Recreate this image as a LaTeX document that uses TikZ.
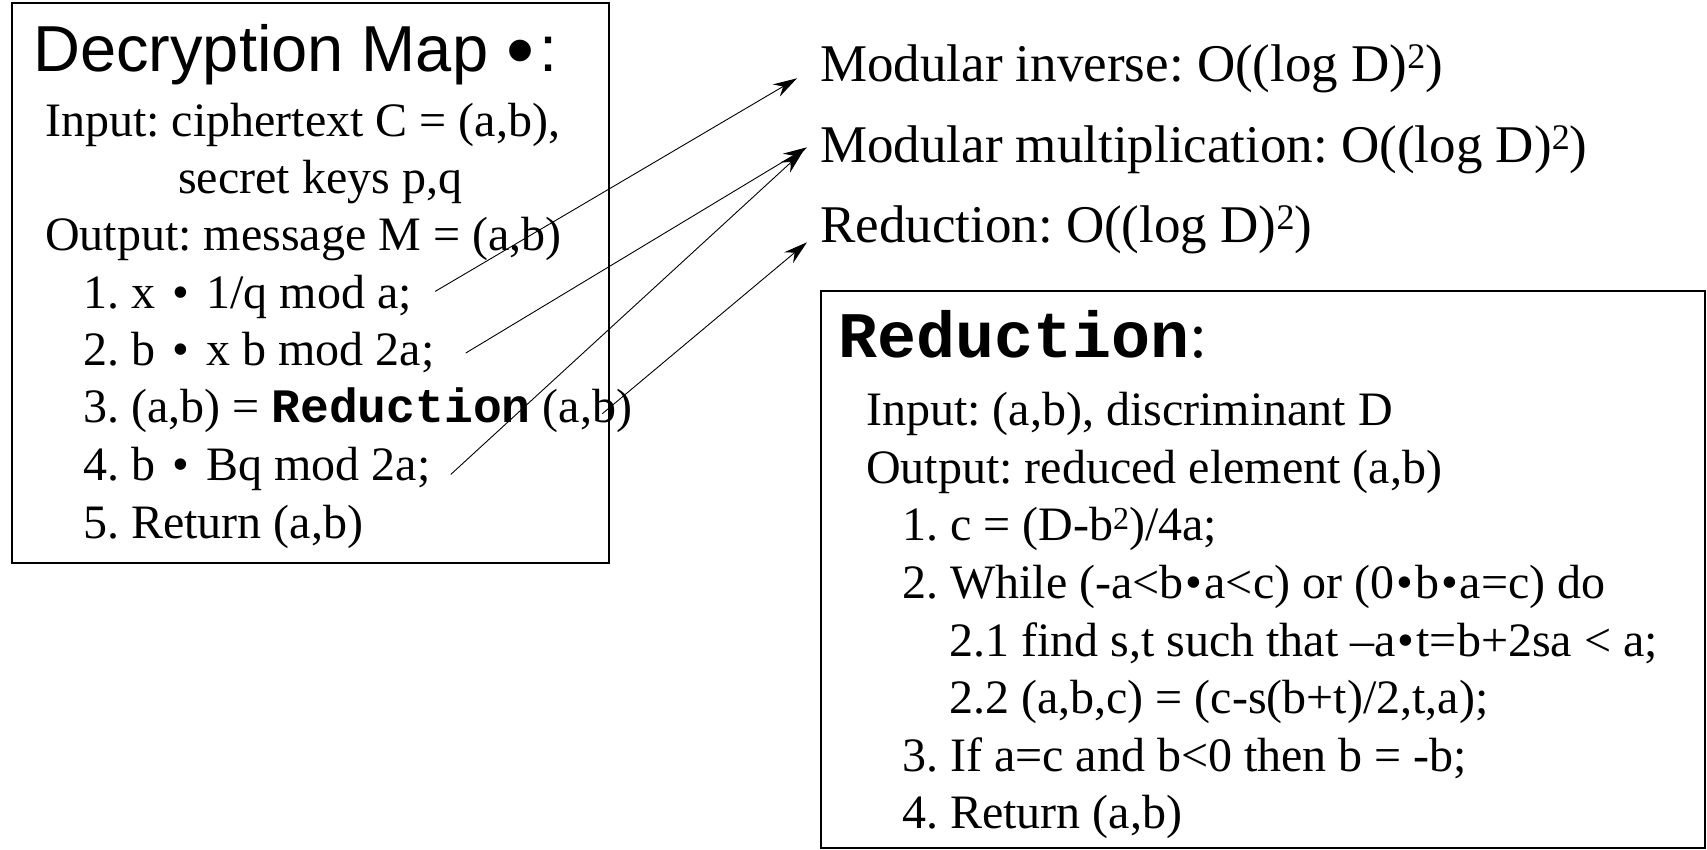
\documentclass[tikz,border=0pt]{standalone}
\usepackage{fontspec}
\setmainfont{Liberation Serif}
\setsansfont{Liberation Sans}
\setmonofont{Liberation Mono}
\usetikzlibrary{arrows.meta}
\frenchspacing
\newcommand{\redbf}{{\ttfamily\bfseries Reduction}}
\newcommand{\blt}{\hspace{0.36em}•\hspace{0.36em}}
\newcommand{\sbl}{\kern2pt•\kern2pt}
\newcommand{\sqtwo}[2]{\raisebox{#1}{\fontsize{#2}{#2}\selectfont 2}}

\begin{document}
\begin{tikzpicture}[x=1pt, y=-1pt,
    line/.style={anchor=base west, inner sep=0pt, font=\fontsize{48}{57}\selectfont},
    cost/.style={anchor=base west, inner sep=0pt, font=\fontsize{53}{64}\selectfont},
    frame/.style={draw, line width=1.3pt},
    arr/.style={-{Stealth[length=24pt, width=14pt, inset=8pt]}, line width=0.9pt}]
  \useasboundingbox (0,0) rectangle (1707,850);

  % decryption box
  \draw[frame] (12,3) rectangle (609,563);
  \node[anchor=base west, inner sep=0pt, font=\sffamily\fontsize{65}{70}\selectfont] (dec) at (33,72)
    {Decryption Map\hspace{18pt}\raisebox{-6pt}{\fontsize{80}{80}\selectfont •}\hspace{5pt}:};
  \node[line] (inp) at (45,137) {Input: ciphertext C = (a,b),};
  \node[line] (sec) at (178,194) {secret keys p,q};
  \node[line] (out) at (45,251) {Output: message M = (a,b)};
  \node[line] (s1) at (83,308) {1. x\blt 1/q mod a;};
  \node[line] (s2) at (83,365) {2. b\blt x b mod 2a;};
  \node[line] (s3) at (83,422) {3. (a,b) = \redbf{} (a,b)};
  \node[line] (s4) at (83,480) {4. b\blt Bq mod 2a;};
  \node[line] (s5) at (83,538) {5. Return (a,b)};

  % costs
  \node[cost] (inv) at (820,82) {Modular inverse: O((log D)\sqtwo{13pt}{36})};
  \node[cost] (mul) at (820,163) {Modular multiplication: O((log D)\sqtwo{13pt}{36})};
  \node[cost] (rdc) at (820,243) {Reduction: O((log D)\sqtwo{13pt}{36})};

  % reduction box
  \draw[frame] (821,291) rectangle (1705,848);
  \node[anchor=base west, inner sep=0pt, font=\fontsize{65}{70}\selectfont] (rtl) at (838,357) {{\ttfamily\bfseries Reduction}:};
  \node[line] (rin) at (866,425) {Input: (a,b), discriminant D};
  \node[line] (rout) at (866,483) {Output: reduced element (a,b)};
  \node[line] (r1) at (902,540) {1. c = (D-b\sqtwo{11pt}{32})/4a;};
  \node[line] (r2) at (902,598) {2. While (-a<b\sbl a<c) or (0\sbl b\sbl a=c) do};
  \node[line] (r21) at (949,656) {2.1 find s,t such that –a\sbl t=b+2sa < a;};
  \node[line] (r22) at (949,713) {2.2 (a,b,c) = (c-s(b+t)/2,t,a);};
  \node[line] (r3) at (902,771) {3. If a=c and b<0 then b = -b;};
  \node[line] (r4) at (902,828) {4. Return (a,b)};

  % arrows
  \draw[arr] ([shift={(23,-5)}]s1.east) -- ([shift={(-23,9)}]inv.west);
  \draw[arr] ([shift={(31,1)}]s2.east) -- ([shift={(-13,-3)}]mul.west);
  \draw[arr] ([shift={(20,6)}]s4.east) -- ([shift={(-17,1)}]mul.west);
  \draw[arr] ([shift={(-30,4)}]s3.east) -- ([shift={(-13,12)}]rdc.west);
\end{tikzpicture}
\end{document}
